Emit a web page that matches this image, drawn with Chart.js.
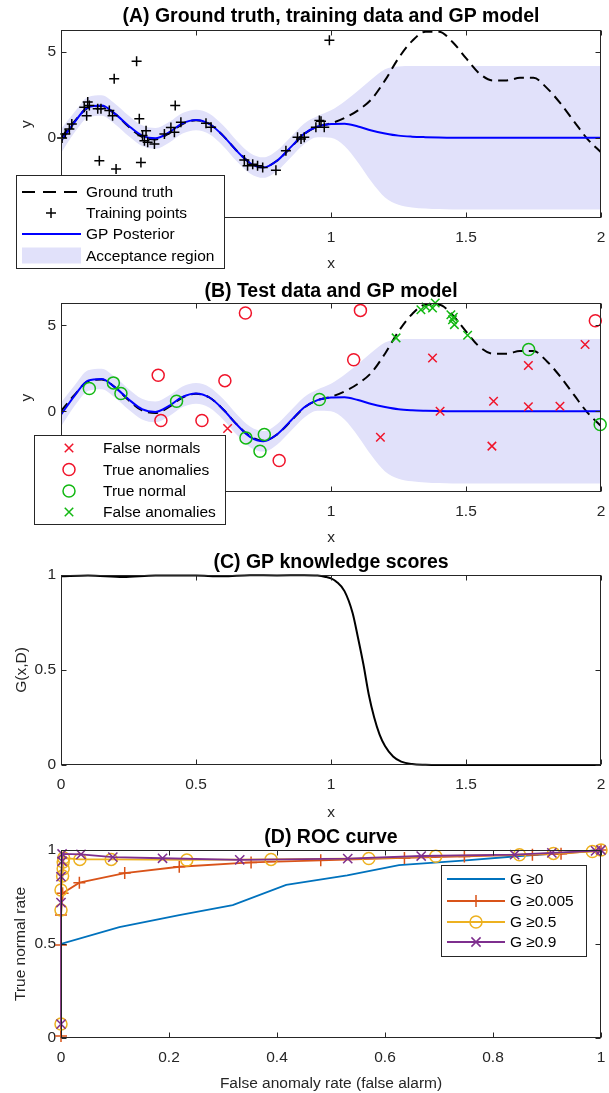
<!DOCTYPE html>
<html>
<head>
<meta charset="utf-8">
<script src="https://cdn.jsdelivr.net/npm/chart.js@4.4.0/dist/chart.umd.min.js"></script>
<style>
  html, body { margin: 0; padding: 0; background: #fff; }
  #page { position: relative; width: 609px; height: 1093px; }
  #page canvas { position: absolute; left: 0; }
</style>
</head>
<body>
<div id="page">
  <canvas id="panel-a" width="609" height="275" style="top:0px"></canvas>
  <canvas id="panel-b" width="609" height="275" style="top:275px"></canvas>
  <canvas id="panel-c" width="609" height="282" style="top:545px"></canvas>
  <canvas id="panel-d" width="609" height="278" style="top:815px"></canvas>
</div>
<script>
// Curves of panels A and B, sampled every 0.05 on x
const gridX = [0, 0.05, 0.1, 0.15, 0.2, 0.25, 0.3, 0.35, 0.4, 0.45, 0.5, 0.55, 0.6, 0.65, 0.7, 0.75, 0.8, 0.85, 0.9, 0.95,
  1, 1.05, 1.1, 1.15, 1.2, 1.25, 1.3, 1.35, 1.4, 1.45, 1.5, 1.55, 1.6, 1.65, 1.7, 1.75, 1.8, 1.85, 1.9, 1.95, 2];
const groundTruth = [0, 0.95, 1.75, 1.85, 1.4, 0.65, 0.05, -0.1, 0.25, 0.8, 1.02, 0.8, 0.12, -0.75, -1.45, -1.72, -1.35, -0.6, 0.2, 0.65,
  0.84, 1.15, 1.6, 2.25, 3.35, 4.65, 5.65, 6.2, 6.2, 5.6, 4.65, 3.75, 3.35, 3.35, 3.5, 3.5, 2.9, 2.0, 0.95, -0.08, -0.86];
const gpMean = [-0.2, 0.9, 1.78, 1.88, 1.39, 0.7, 0.12, -0.04, 0.31, 0.84, 1.04, 0.8, 0.12, -0.76, -1.49, -1.75, -1.35, -0.57, 0.22, 0.65,
  0.8, 0.82, 0.65, 0.42, 0.25, 0.12, 0.06, 0.03, 0.01, 0, 0, 0, 0, 0, 0, 0, 0, 0, 0, 0, 0];
const bandUpper = [0.5, 1.5, 2.38, 2.48, 1.99, 1.3, 0.72, 0.56, 0.91, 1.44, 1.64, 1.4, 0.72, -0.16, -0.89, -1.15, -0.75, 0.03, 0.82, 1.27,
  1.6, 2.12, 2.75, 3.42, 4.0, 4.17, 4.2, 4.2, 4.2, 4.2, 4.2, 4.2, 4.2, 4.2, 4.2, 4.2, 4.2, 4.2, 4.2, 4.2, 4.2];
const bandLower = [-0.9, 0.3, 1.18, 1.28, 0.79, 0.1, -0.48, -0.64, -0.29, 0.24, 0.44, 0.2, -0.48, -1.36, -2.09, -2.35, -1.95, -1.17, -0.38, 0.03,
  0.0, -0.48, -1.45, -2.58, -3.5, -3.93, -4.08, -4.14, -4.18, -4.2, -4.2, -4.2, -4.2, -4.2, -4.2, -4.2, -4.2, -4.2, -4.2, -4.2, -4.2];

// Training points (panel A)
const trainX = [0.004, 0.016, 0.031, 0.04, 0.086, 0.095, 0.099, 0.105, 0.136, 0.142, 0.148, 0.179, 0.191, 0.197, 0.204,
  0.28, 0.29, 0.296, 0.302, 0.309, 0.315, 0.321, 0.346, 0.383, 0.407, 0.42, 0.423, 0.444, 0.537, 0.556,
  0.679, 0.691, 0.71, 0.728, 0.747, 0.796, 0.833, 0.876, 0.889, 0.901, 0.944, 0.957, 0.963, 0.975, 0.994];
const trainY = [-0.02, 0.22, 0.51, 0.8, 1.78, 1.29, 2.08, 1.88, 1.69, -1.35, 1.69, 1.59, 1.29, 3.45, -1.84,
  4.47, 1.1, -1.45, 0.12, -0.18, 0.41, -0.27, -0.37, 0.22, 0.6, 0.31, 1.88, 0.9, 0.84, 0.61,
  -1.31, -1.65, -1.55, -1.65, -1.75, -1.9, -0.76, 0.02, -0.08, 0.02, 0.61, 1.0, 0.96, 0.61, 5.7];

// Test points (panel B)
const falseNormX = [0.617, 1.183, 1.376, 1.404, 1.596, 1.602, 1.731, 1.731, 1.848, 1.941];
const falseNormY = [-1.0, -1.51, 3.1, 0.0, -2.03, 0.58, 2.66, 0.26, 0.29, 3.88];
const trueAnomX = [0.36, 0.37, 0.522, 0.607, 0.683, 0.808, 1.084, 1.109, 1.979];
const trueAnomY = [2.09, -0.54, -0.54, 1.78, 5.72, -2.87, 3.0, 5.87, 5.27];
const trueNormX = [0.105, 0.194, 0.222, 0.428, 0.685, 0.737, 0.753, 0.957, 1.732, 1.997];
const trueNormY = [1.32, 1.65, 1.03, 0.58, -1.55, -2.33, -1.35, 0.68, 3.59, -0.77];
const falseAnomX = [1.241, 1.333, 1.352, 1.376, 1.386, 1.444, 1.45, 1.453, 1.457, 1.506];
const falseAnomY = [4.27, 5.91, 6.07, 6.01, 6.3, 5.62, 5.33, 5.47, 5.04, 4.42];

// Knowledge score (panel C)
const scoreX = [0, 0.1, 0.23, 0.35, 0.5, 0.6, 0.7, 0.8, 0.9, 0.95, 0.98, 1.0, 1.02, 1.05, 1.08, 1.1, 1.12, 1.14,
  1.16, 1.18, 1.2, 1.23, 1.26, 1.3, 1.35, 1.4, 1.5, 2.0];
const scoreY = [0.993, 0.998, 0.99, 0.998, 0.997, 0.993, 0.999, 0.998, 0.999, 0.997, 0.99, 0.982, 0.965, 0.915, 0.8, 0.67, 0.53, 0.37,
  0.25, 0.16, 0.1, 0.045, 0.018, 0.005, 0.001, 0, 0, 0];

// ROC curves (panel D)
const rocG0X = [0, 0, 0.108, 0.219, 0.318, 0.417, 0.53, 0.626, 0.75, 0.85, 0.92, 1];
const rocG0Y = [0, 0.5, 0.59, 0.654, 0.707, 0.814, 0.865, 0.92, 0.945, 0.968, 0.982, 1];
const rocG005X = [0, 0, 0, 0.003, 0.034, 0.118, 0.219, 0.352, 0.481, 0.636, 0.747, 0.873, 0.926, 1];
const rocG005Y = [0.01, 0.495, 0.654, 0.77, 0.826, 0.877, 0.911, 0.934, 0.945, 0.958, 0.966, 0.975, 0.98, 1];
const rocG05X = [0, 0, 0, 0.003, 0.004, 0.004, 0.005, 0.035, 0.093, 0.233, 0.389, 0.57, 0.694, 0.849, 0.912, 0.984, 1];
const rocG05Y = [0.074, 0.681, 0.787, 0.862, 0.9, 0.936, 0.957, 0.95, 0.95, 0.947, 0.95, 0.955, 0.967, 0.975, 0.982, 0.992, 1];
const rocG09X = [0, 0, 0, 0.002, 0.002, 0.037, 0.096, 0.188, 0.331, 0.531, 0.667, 0.84, 0.909, 0.99, 1];
const rocG09Y = [0.074, 0.72, 0.858, 0.94, 0.979, 0.977, 0.962, 0.956, 0.948, 0.954, 0.968, 0.975, 0.985, 0.995, 1];

// Axis ranges and ticks
const xRangeAB = [0, 2];
const yRangeAB = [-4.7, 6.3];
const xTicksAB = [0, 0.5, 1, 1.5, 2];
const yTicksAB = [0, 5];
const xTicksC = [0, 0.5, 1, 1.5, 2];
const yTicksC = [0, 0.5, 1];
const xTicksD = [0, 0.2, 0.4, 0.6, 0.8, 1];
const yTicksD = [0, 0.5, 1];

const FONT = "'Liberation Sans', Arial, Helvetica, sans-serif";
const AXIS_COLOR = '#262626';
const BAND = '#e1e1fa';
const GP_BLUE = '#0000ff';
const RED = '#f0142a';
const GREEN = '#12b812';
const ROC_COLORS = ['#0072bd', '#d95319', '#edb120', '#7e2f8e'];

function toPoints(xs, ys) {
  return xs.map((x, i) => ({ x: x, y: ys[i] }));
}

// draws one legend marker by hand (same shapes as Chart.js uses)
function drawMarker(ctx, m, x, y) {
  ctx.save();
  ctx.strokeStyle = m.color;
  ctx.lineWidth = m.lw;
  ctx.beginPath();
  if (m.style === 'cross') {
    ctx.moveTo(x - m.r, y); ctx.lineTo(x + m.r, y);
    ctx.moveTo(x, y - m.r); ctx.lineTo(x, y + m.r);
  } else if (m.style === 'crossRot') {
    const d = m.r * Math.SQRT1_2;
    ctx.moveTo(x - d, y - d); ctx.lineTo(x + d, y + d);
    ctx.moveTo(x + d, y - d); ctx.lineTo(x - d, y + d);
  } else {
    ctx.arc(x, y, m.r, 0, Math.PI * 2);
  }
  ctx.stroke();
  ctx.restore();
}

function drawLegend(ctx, lg) {
  ctx.save();
  ctx.fillStyle = '#fff';
  ctx.fillRect(lg.box[0], lg.box[1], lg.box[2], lg.box[3]);
  ctx.strokeStyle = AXIS_COLOR;
  ctx.lineWidth = 1;
  ctx.strokeRect(lg.box[0] + 0.5, lg.box[1] + 0.5, lg.box[2], lg.box[3]);
  ctx.font = '15.5px ' + FONT;
  ctx.textBaseline = 'middle';
  ctx.textAlign = 'left';
  lg.entries.forEach((e, i) => {
    const y = lg.rows[i];
    if (e.patch) {
      ctx.fillStyle = e.patch;
      ctx.fillRect(lg.x1, y - 8, lg.x2 - lg.x1, 16);
    }
    if (e.line) {
      ctx.save();
      ctx.strokeStyle = e.line.color;
      ctx.lineWidth = e.line.width;
      ctx.setLineDash(e.line.dash || []);
      ctx.beginPath();
      ctx.moveTo(lg.x1, y);
      ctx.lineTo(lg.x2, y);
      ctx.stroke();
      ctx.restore();
    }
    if (e.marker) {
      drawMarker(ctx, e.marker, lg.markerX, y);
    }
    ctx.fillStyle = '#000';
    ctx.fillText(e.label, lg.textX, y + 1);
  });
  ctx.restore();
}

// frame with inward ticks, title, axis labels and legend
function makeDecor(cfg) {
  return {
    id: 'panelDecor',
    afterDraw(chart) {
      const ctx = chart.ctx;
      const a = chart.chartArea;
      const L = Math.round(a.left) + 0.5;
      const R = Math.round(a.right) - 0.5;
      const T = Math.round(a.top) + 0.5;
      const B = Math.round(a.bottom) - 0.5;
      ctx.save();
      ctx.strokeStyle = AXIS_COLOR;
      ctx.lineWidth = 1;
      ctx.strokeRect(L, T, R - L, B - T);
      ctx.beginPath();
      chart.scales.x.ticks.forEach((t) => {
        const px = Math.round(chart.scales.x.getPixelForValue(t.value)) + 0.5;
        ctx.moveTo(px, B); ctx.lineTo(px, B - 5);
        ctx.moveTo(px, T); ctx.lineTo(px, T + 5);
      });
      chart.scales.y.ticks.forEach((t) => {
        const py = Math.round(chart.scales.y.getPixelForValue(t.value)) + 0.5;
        ctx.moveTo(L, py); ctx.lineTo(L + 5, py);
        ctx.moveTo(R, py); ctx.lineTo(R - 5, py);
      });
      ctx.stroke();

      const cx = (a.left + a.right) / 2;
      ctx.fillStyle = '#000';
      ctx.textAlign = 'center';
      ctx.textBaseline = 'alphabetic';
      ctx.font = 'bold 19.5px ' + FONT;
      ctx.fillText(cfg.title, cx, cfg.titleY);

      ctx.fillStyle = AXIS_COLOR;
      ctx.font = '15.5px ' + FONT;
      ctx.fillText(cfg.xLabel, cx, cfg.xLabelY);
      ctx.save();
      ctx.translate(cfg.yLabelX, (a.top + a.bottom) / 2);
      ctx.rotate(-Math.PI / 2);
      ctx.fillText(cfg.yLabel, 0, 0);
      ctx.restore();

      if (cfg.legend) drawLegend(ctx, cfg.legend);
      ctx.restore();
    },
  };
}

// keeps Chart.js from adding room for edge tick labels
function noScalePadding(scale) {
  scale.paddingLeft = 0;
  scale.paddingRight = 0;
  scale.paddingTop = 0;
  scale.paddingBottom = 0;
}

function makePanel(canvasId, cfg) {
  const tickFont = { family: FONT, size: 15.5 };
  return new Chart(document.getElementById(canvasId), {
    type: 'line',
    data: { datasets: cfg.datasets },
    options: {
      responsive: false,
      animation: false,
      devicePixelRatio: 1,
      events: [],
      layout: { padding: { top: cfg.padTop, right: 8, left: 0, bottom: 0 } },
      plugins: {
        legend: { display: false },
        tooltip: { enabled: false },
        filler: { drawTime: 'beforeDatasetsDraw' },
      },
      scales: {
        x: {
          type: 'linear',
          min: cfg.xRange[0],
          max: cfg.xRange[1],
          grid: { display: false, drawTicks: false },
          border: { display: false },
          ticks: { padding: 10, color: AXIS_COLOR, font: tickFont, maxRotation: 0, autoSkip: false, callback: (v) => String(v) },
          afterBuildTicks: (scale) => { scale.ticks = cfg.xTicks.map((v) => ({ value: v })); },
          afterFit: (scale) => { scale.height = cfg.xAxisHeight; noScalePadding(scale); },
        },
        y: {
          type: 'linear',
          min: cfg.yRange[0],
          max: cfg.yRange[1],
          grid: { display: false, drawTicks: false },
          border: { display: false },
          ticks: { padding: 5, color: AXIS_COLOR, font: tickFont, autoSkip: false, callback: (v) => String(v) },
          afterBuildTicks: (scale) => { scale.ticks = cfg.yTicks.map((v) => ({ value: v })); },
          afterFit: (scale) => { scale.width = 61; noScalePadding(scale); },
        },
      },
    },
    plugins: [makeDecor(cfg)],
  });
}

// datasets shared by panels A and B: acceptance band, ground truth, GP mean
function modelDatasets() {
  return [
    { data: toPoints(gridX, bandLower), borderWidth: 0, borderColor: 'transparent', pointRadius: 0,
      fill: false, cubicInterpolationMode: 'monotone', order: 10 },
    { data: toPoints(gridX, bandUpper), borderWidth: 0, borderColor: 'transparent', pointRadius: 0,
      fill: '-1', backgroundColor: BAND, cubicInterpolationMode: 'monotone', order: 9 },
    { data: toPoints(gridX, groundTruth), borderColor: '#000', borderWidth: 2, borderDash: [10, 6], pointRadius: 0,
      fill: false, cubicInterpolationMode: 'monotone', order: 4 },
    { data: toPoints(gridX, gpMean), borderColor: GP_BLUE, borderWidth: 2, pointRadius: 0,
      fill: false, cubicInterpolationMode: 'monotone', order: 3 },
  ];
}

function markerSet(xs, ys, style, color, r) {
  return {
    data: toPoints(xs, ys), showLine: false, fill: false, clip: false,
    pointStyle: style, pointRadius: r, pointBorderColor: color, pointBorderWidth: 1.5,
    pointBackgroundColor: 'transparent', order: 1,
  };
}

// (A)
makePanel('panel-a', {
  padTop: 30, xAxisHeight: 57,
  xRange: xRangeAB, yRange: yRangeAB, xTicks: xTicksAB, yTicks: yTicksAB,
  title: '(A) Ground truth, training data and GP model', titleY: 22,
  xLabel: 'x', xLabelY: 268, yLabel: 'y', yLabelX: 31,
  datasets: modelDatasets().concat([markerSet(trainX, trainY, 'cross', '#000', 5)]),
  legend: {
    box: [16, 175, 208, 93], rows: [192, 213, 234, 255.5], x1: 22, x2: 81, markerX: 51, textX: 86,
    entries: [
      { label: 'Ground truth', line: { color: '#000', width: 2, dash: [13, 8] } },
      { label: 'Training points', marker: { style: 'cross', color: '#000', r: 5, lw: 1.5 } },
      { label: 'GP Posterior', line: { color: GP_BLUE, width: 2 } },
      { label: 'Acceptance region', patch: BAND },
    ],
  },
});

// (B)
makePanel('panel-b', {
  padTop: 28, xAxisHeight: 58,
  xRange: xRangeAB, yRange: yRangeAB, xTicks: xTicksAB, yTicks: yTicksAB,
  title: '(B) Test data and GP model', titleY: 22,
  xLabel: 'x', xLabelY: 267, yLabel: 'y', yLabelX: 31,
  datasets: modelDatasets().concat([
    markerSet(falseNormX, falseNormY, 'crossRot', RED, 6),
    markerSet(trueAnomX, trueAnomY, 'circle', RED, 6),
    markerSet(trueNormX, trueNormY, 'circle', GREEN, 6),
    markerSet(falseAnomX, falseAnomY, 'crossRot', GREEN, 6),
  ]),
  legend: {
    box: [34, 160, 191, 89], rows: [173, 194.5, 216, 237], x1: 40, x2: 98, markerX: 69, textX: 103,
    entries: [
      { label: 'False normals', marker: { style: 'crossRot', color: RED, r: 6, lw: 1.5 } },
      { label: 'True anomalies', marker: { style: 'circle', color: RED, r: 6, lw: 1.5 } },
      { label: 'True normal', marker: { style: 'circle', color: GREEN, r: 6, lw: 1.5 } },
      { label: 'False anomalies', marker: { style: 'crossRot', color: GREEN, r: 6, lw: 1.5 } },
    ],
  },
});

// (C)
makePanel('panel-c', {
  padTop: 30, xAxisHeight: 62,
  xRange: [0, 2], yRange: [0, 1], xTicks: xTicksC, yTicks: yTicksC,
  title: '(C) GP knowledge scores', titleY: 23,
  xLabel: 'x', xLabelY: 272, yLabel: 'G(x,D)', yLabelX: 26,
  datasets: [
    { data: toPoints(scoreX, scoreY), borderColor: '#000', borderWidth: 2, pointRadius: 0, fill: false,
      clip: false, cubicInterpolationMode: 'monotone' },
  ],
});

// (D)
function rocSet(xs, ys, color, style, r, order) {
  return {
    data: toPoints(xs, ys), borderColor: color, borderWidth: 1.8, fill: false, clip: false, tension: 0,
    pointStyle: style || 'circle', pointRadius: style ? r : 0, pointBorderColor: color, pointBorderWidth: 1.5,
    pointBackgroundColor: 'transparent', order: order,
  };
}

makePanel('panel-d', {
  padTop: 35, xAxisHeight: 55,
  xRange: [0, 1], yRange: [0, 1], xTicks: xTicksD, yTicks: yTicksD,
  title: '(D) ROC curve', titleY: 28,
  xLabel: 'False anomaly rate (false alarm)', xLabelY: 273, yLabel: 'True normal rate', yLabelX: 25,
  datasets: [
    rocSet(rocG0X, rocG0Y, ROC_COLORS[0], null, 0, 4),
    rocSet(rocG005X, rocG005Y, ROC_COLORS[1], 'cross', 6, 3),
    rocSet(rocG05X, rocG05Y, ROC_COLORS[2], 'circle', 6, 2),
    rocSet(rocG09X, rocG09Y, ROC_COLORS[3], 'crossRot', 6.5, 1),
  ],
  legend: {
    box: [441, 50, 145, 91], rows: [64, 86, 107, 127], x1: 447, x2: 505, markerX: 476, textX: 510,
    entries: [
      { label: 'G \u22650', line: { color: ROC_COLORS[0], width: 1.8 } },
      { label: 'G \u22650.005', line: { color: ROC_COLORS[1], width: 1.8 }, marker: { style: 'cross', color: ROC_COLORS[1], r: 6, lw: 1.5 } },
      { label: 'G \u22650.5', line: { color: ROC_COLORS[2], width: 1.8 }, marker: { style: 'circle', color: ROC_COLORS[2], r: 6, lw: 1.5 } },
      { label: 'G \u22650.9', line: { color: ROC_COLORS[3], width: 1.8 }, marker: { style: 'crossRot', color: ROC_COLORS[3], r: 6.5, lw: 1.5 } },
    ],
  },
});
</script>
</body>
</html>
